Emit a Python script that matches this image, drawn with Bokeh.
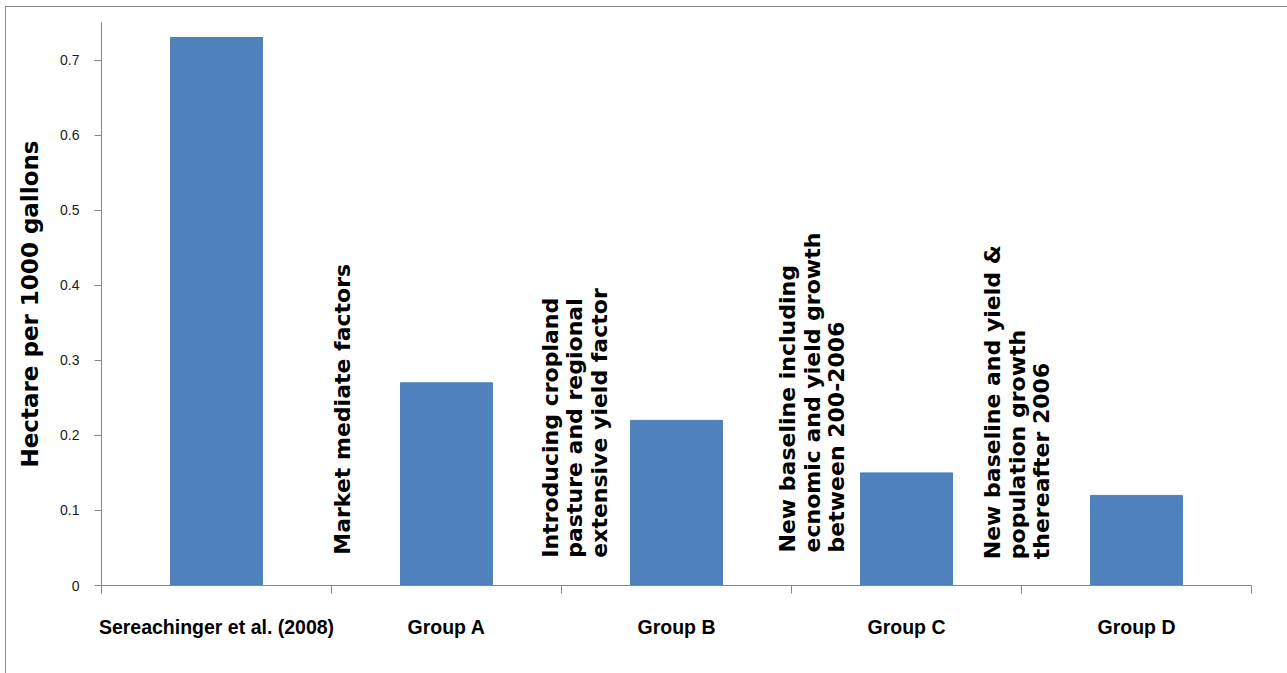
import math
from bokeh.plotting import figure
from bokeh.models import FixedTicker, Range1d
from bokeh.core.properties import value
from bokeh.embed import file_html
from bokeh.resources import INLINE

# Land requirement per scenario
categories = ["Sereachinger et al. (2008)", "Group A", "Group B", "Group C", "Group D"]
hectares = [0.73, 0.27, 0.22, 0.15, 0.12]
y_ticks = [0, 0.1, 0.2, 0.3, 0.4, 0.5, 0.6, 0.7]

# Notes placed in the gaps between bars
notes = [
    "Market mediate factors",
    "Introducing cropland\npasture and regional\nextensive yield factor",
    "New baseline including\necnomic and yield  growth\nbetween 200-2006",
    "New baseline and yield &\npopulation growth\nthereafter 2006",
]
note_x = [0.992, 1.897, 2.93, 3.821]
note_y = [0.041, 0.037, 0.044, 0.035]

BAR = "#4F81BD"
AXIS = "#868686"
SANS = "Liberation Sans"
WIDE = "DejaVu Sans"

n = len(categories)
centers = [i + 0.5 for i in range(n)]

p = figure(
    width=1282, height=667,
    x_range=Range1d(0, n), y_range=Range1d(0, 0.75),
    output_backend="svg", toolbar_location=None,
    min_border_left=95, min_border_right=37, min_border_top=15, min_border_bottom=89,
)
p.styles = {
    "margin-left": "5px", "margin-top": "6px",
    "border-left": "1.5px solid #8c8c8c", "border-top": "1.5px solid #8c8c8c",
}
p.outline_line_color = None
p.grid.visible = False

p.vbar(x=centers, top=hectares, width=0.4, fill_color=BAR, line_color=BAR)

p.text(x=note_x, y=note_y, text=notes, angle=math.pi / 2,
       text_align="left", text_baseline="top",
       text_font=value(WIDE), text_font_style="bold", text_font_size="22px",
       text_line_height=0.98, text_color="#000000")

# y axis
ya = p.yaxis[0]
ya.ticker = FixedTicker(ticks=y_ticks)
ya.major_label_overrides = {0: "0"}
ya.axis_line_color = AXIS
ya.major_tick_line_color = AXIS
ya.major_tick_out = 7
ya.major_tick_in = 0
ya.minor_tick_line_color = None
ya.major_label_text_font = SANS
ya.major_label_text_font_size = "14px"
ya.major_label_text_color = "#1a1a1a"
ya.major_label_standoff = 15
ya.axis_label = "Hectare per 1000 gallons"
ya.axis_label_text_font = WIDE
ya.axis_label_text_font_style = "bold"
ya.axis_label_text_font_size = "23px"
ya.axis_label_text_color = "#000000"
ya.axis_label_standoff = 14

# x axis: labels at bar centres, tick marks at category boundaries
xa = p.xaxis[0]
xa.ticker = FixedTicker(ticks=centers, minor_ticks=list(range(n + 1)))
xa.major_label_overrides = {c: lab for c, lab in zip(centers, categories)}
xa.axis_line_color = AXIS
xa.major_tick_line_color = None
xa.major_tick_out = 0
xa.major_tick_in = 0
xa.minor_tick_line_color = AXIS
xa.minor_tick_out = 8
xa.minor_tick_in = 0
xa.major_label_text_font = SANS
xa.major_label_text_font_style = "bold"
xa.major_label_text_font_size = "19.5px"
xa.major_label_text_color = "#000000"
xa.major_label_standoff = 22

open("out.html", "w").write(file_html(p, INLINE))
